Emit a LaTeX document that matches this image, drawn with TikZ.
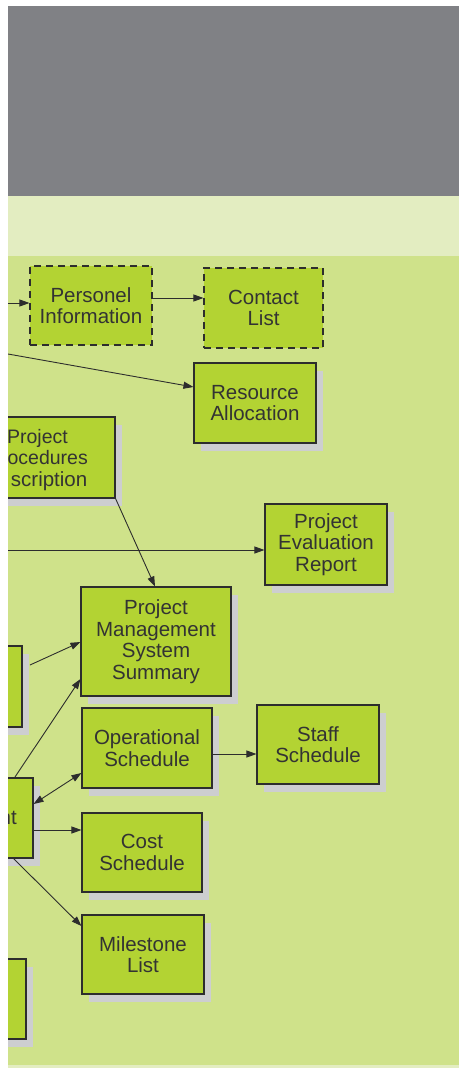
\documentclass[tikz,border=0pt]{standalone}
\usepackage{fontspec}
\setmainfont{Liberation Sans}
\usetikzlibrary{arrows.meta,shadows}
\definecolor{bandgray}{HTML}{808185}
\definecolor{bandlight}{HTML}{E3EDC1}
\definecolor{mainbg}{HTML}{CFE28A}
\definecolor{boxfill}{HTML}{B3D333}
\definecolor{shadowgray}{HTML}{CDCED0}
\definecolor{edgeline}{HTML}{2D2D2D}
\definecolor{txt}{HTML}{333333}
\tikzset{
  boxbase/.style={draw=edgeline, line width=1.1pt, fill=boxfill, inner sep=2pt,
    align=center, text=txt, font=\fontsize{20.5}{21.5}\selectfont},
  shadowbox/.style={boxbase, drop shadow={shadow xshift=7pt, shadow yshift=-8pt, fill=shadowgray, opacity=1}},
  dashbox/.style={boxbase, dash pattern=on 7pt off 5pt},
  arr/.style={draw=edgeline, line width=0.9pt, -{Triangle[length=10pt,width=7pt]}},
  darr/.style={draw=edgeline, line width=0.9pt, {Triangle[length=10pt,width=7pt]}-{Triangle[length=10pt,width=7pt]}},
  lbl/.style={text=txt, font=\fontsize{20.5}{21.5}\selectfont, inner sep=0pt},
  lblsmall/.style={text=txt, font=\fontsize{19.5}{21.5}\selectfont, inner sep=0pt}
}
\begin{document}
\begin{tikzpicture}[x=1pt,y=-1pt]
\useasboundingbox (0,0) rectangle (459,1068);
\fill[white] (0,0) rectangle (459,1068);
\fill[bandgray] (8,6) rectangle (459,196);
\fill[bandlight] (8,196) rectangle (459,256);
\fill[mainbg] (8,256) rectangle (459,1065);
\fill[bandlight] (8,1065) rectangle (459,1068);
\begin{scope}
\clip (8,256) rectangle (459,1065);
% boxes
\node[dashbox, minimum width=122pt, minimum height=79pt] (pers) at (91,305.5) {Personel\\Information};
\node[dashbox, minimum width=119pt, minimum height=80pt] (contact) at (263.5,308) {Contact\\List};
\node[shadowbox, minimum width=122pt, minimum height=80pt] (resource) at (255,403) {Resource\\Allocation};
\node[shadowbox, minimum width=160pt, minimum height=81pt] (ppd) at (35,457.5) {};
\node[shadowbox, minimum width=122pt, minimum height=81pt] (eval) at (326,544.5) {Project\\Evaluation\\Report};
\node[shadowbox, minimum width=150pt, minimum height=109pt] (pmss) at (156,641.5) {Project\\Management\\System\\Summary};
\node[shadowbox, minimum width=122pt, minimum height=81pt] (left1) at (-39,686.5) {};
\node[shadowbox, minimum width=130pt, minimum height=80pt] (ops) at (147,748) {Operational\\Schedule};
\node[shadowbox, minimum width=122pt, minimum height=79pt] (staff) at (318,744.5) {Staff\\Schedule};
\node[shadowbox, minimum width=130pt, minimum height=80pt] (left2) at (-32,818) {};
\node[lbl, anchor=base east] (nttext) at (17,824) {nt};
\node[shadowbox, minimum width=120pt, minimum height=79pt] (cost) at (142,852.5) {Cost\\Schedule};
\node[shadowbox, minimum width=122pt, minimum height=79pt] (mile) at (143,954.5) {Milestone\\List};
\node[shadowbox, minimum width=122pt, minimum height=80pt] (left3) at (-35,999) {};
% helper coordinates
\coordinate (in1) at (8,303);
\coordinate (y298) at (0,298);
\coordinate (in2) at (8,354);
\coordinate (y387) at (0,387);
\coordinate (x155) at (155,0);
\coordinate (in3) at (8,550);
\coordinate (l1out) at (30,665);
\coordinate (y642) at (0,642);
\coordinate (l2top) at (15,777);
\coordinate (y679) at (0,679);
\coordinate (y804) at (0,804);
\coordinate (y773) at (0,773);
\coordinate (y830) at (0,830);
\coordinate (l2bot) at (13,858);
\coordinate (y926) at (0,926);
\coordinate (y754) at (0,754);
% connectors
\draw[arr] (in1) -- (in1 -| pers.west);
\draw[arr] (pers.east |- y298) -- (contact.west |- y298);
\draw[arr] (in2) -- (resource.west |- y387);
\draw[arr] (ppd.south east) -- (x155 |- pmss.north);
\draw[arr] (in3) -- (in3 -| eval.west);
\draw[arr] (l1out) -- (pmss.west |- y642);
\draw[arr] (l2top) -- (pmss.west |- y679);
\draw[darr] (left2.east |- y804) -- (ops.west |- y773);
\draw[arr] (left2.east |- y830) -- (cost.west |- y830);
\draw[arr] (l2bot) -- (mile.west |- y926);
\draw[arr] (ops.east |- y754) -- (staff.west |- y754);
\end{scope}
% visible text fragments of the box cut by the left edge
\node[lblsmall, anchor=base east] (ppd1) at (68,443) {Project};
\node[lblsmall, anchor=base east] (ppd2) at (88,464) {ocedures};
\node[lbl, anchor=base east] (ppd3) at (87.5,486) {scription};
\end{tikzpicture}
\end{document}
